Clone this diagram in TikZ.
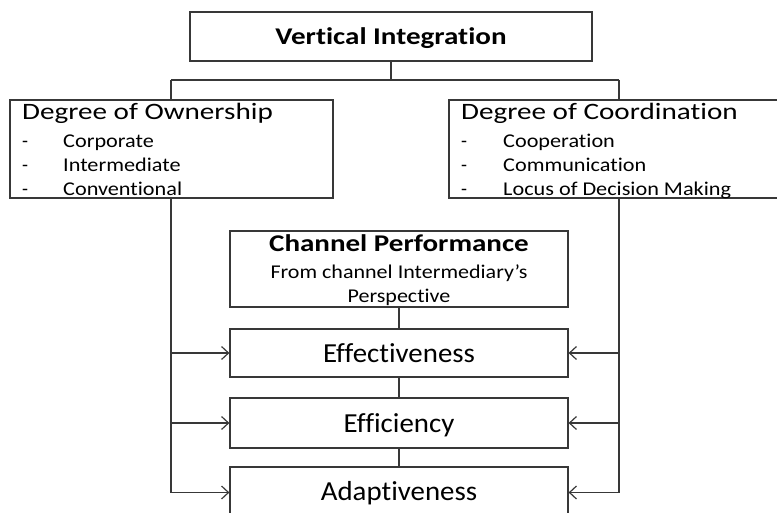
\documentclass[tikz,border=0pt]{standalone}
\usepackage{fontspec}
\setmainfont{Carlito}[RawFeature={-liga}]
\usetikzlibrary{arrows.meta}

\definecolor{linegray}{HTML}{383838}

% horizontally widened text
\newcommand{\wide}[2]{\scalebox{#1}[1]{#2}}

\tikzset{
  box/.style={draw=linegray, line width=1.2pt, rectangle, inner sep=0pt, fill=white},
  link/.style={draw=linegray, line width=1.2pt},
  feed/.style={link, -{Straight Barb[length=7pt, width=13pt, line width=1.2pt]}},
  label/.style={anchor=base, inner sep=0pt, text=black},
  lefttext/.style={anchor=base west, inner sep=0pt, text=black},
  head/.style={font=\fontsize{24}{28}\selectfont\bfseries},
  title/.style={font=\fontsize{23.5}{27}\selectfont},
  item/.style={font=\fontsize{19.5}{23}\selectfont},
  measure/.style={font=\fontsize{27.5}{31}\selectfont},
}

\begin{document}
\begin{tikzpicture}[x=1pt, y=-1pt]
  \useasboundingbox (0,0) rectangle (777,513);

  % junction points of the top tree and the two side trunks
  \coordinate (hub) at (391,80);
  \coordinate (jl)  at (171,80);
  \coordinate (jr)  at (619,80);

  % boxes
  \node[box, minimum width=402pt, minimum height=49pt] (vi)    at (391,36.5) {};
  \node[box, minimum width=323pt, minimum height=98pt] (own)   at (171.5,149) {};
  \node[box, minimum width=329pt, minimum height=98pt] (coord) at (613.5,149) {};
  \node[box, minimum width=338pt, minimum height=76pt] (perf)  at (399,269) {};
  \node[box, minimum width=338pt, minimum height=48pt] (effv)  at (399,353) {};
  \node[box, minimum width=338pt, minimum height=50pt] (effc)  at (399,423) {};
  \node[box, minimum width=338pt, minimum height=51pt] (adap)  at (399,492.5) {};

  % top tree
  \draw[link] (vi.south) -- (hub);
  \draw[link] (jl) -- (jr);
  \draw[link] (jl) -- (jl |- own.north);
  \draw[link] (jr) -- (jr |- coord.north);

  % chain of performance boxes
  \draw[link] (perf.south) -- (effv.north);
  \draw[link] (effv.south) -- (effc.north);
  \draw[link] (effc.south) -- (adap.north);

  % side trunks feeding the performance measures
  \draw[feed] (jl |- own.south) |- (adap.west);
  \draw[feed] (jl |- effv.west) -- (effv.west);
  \draw[feed] (jl |- effc.west) -- (effc.west);
  \draw[feed] (jr |- coord.south) |- (adap.east);
  \draw[feed] (jr |- effv.east) -- (effv.east);
  \draw[feed] (jr |- effc.east) -- (effc.east);

  % texts
  \node[label, head] (tvi) at (391,45) {\wide{1.21}{Vertical Integration}};

  \node[lefttext, title] (town) at (22,120) {\wide{1.24}{Degree of Ownership}};
  \node[lefttext, item] (o1d) at (22,148) {-};
  \node[lefttext, item] (o1) at (63,148) {\wide{1.14}{Corporate}};
  \node[lefttext, item] (o2d) at (22,172) {-};
  \node[lefttext, item] (o2) at (63,172) {\wide{1.14}{Intermediate}};
  \node[lefttext, item] (o3d) at (22,196) {-};
  \node[lefttext, item] (o3) at (63,196) {\wide{1.14}{Conventional}};

  \node[lefttext, title] (tcoord) at (461,120) {\wide{1.24}{Degree of Coordination}};
  \node[lefttext, item] (c1d) at (461,148) {-};
  \node[lefttext, item] (c1) at (503,148) {\wide{1.14}{Cooperation}};
  \node[lefttext, item] (c2d) at (461,172) {-};
  \node[lefttext, item] (c2) at (503,172) {\wide{1.14}{Communication}};
  \node[lefttext, item] (c3d) at (461,196) {-};
  \node[lefttext, item] (c3) at (503,196) {\wide{1.14}{Locus of Decision Making}};

  \node[label, head] (tperf) at (399,252) {\wide{1.21}{Channel Performance}};
  \node[label, item] (tperf2) at (399,279) {\wide{1.13}{From channel Intermediary’s}};
  \node[label, item] (tperf3) at (399,303) {\wide{1.13}{Perspective}};

  \node[label, measure] (teffv) at (399,362) {\wide{1.05}{Effectiveness}};
  \node[label, measure] (teffc) at (399,432) {\wide{1.05}{Efficiency}};
  \node[label, measure] (tadap) at (399,500) {\wide{1.05}{Adaptiveness}};
\end{tikzpicture}
\end{document}
